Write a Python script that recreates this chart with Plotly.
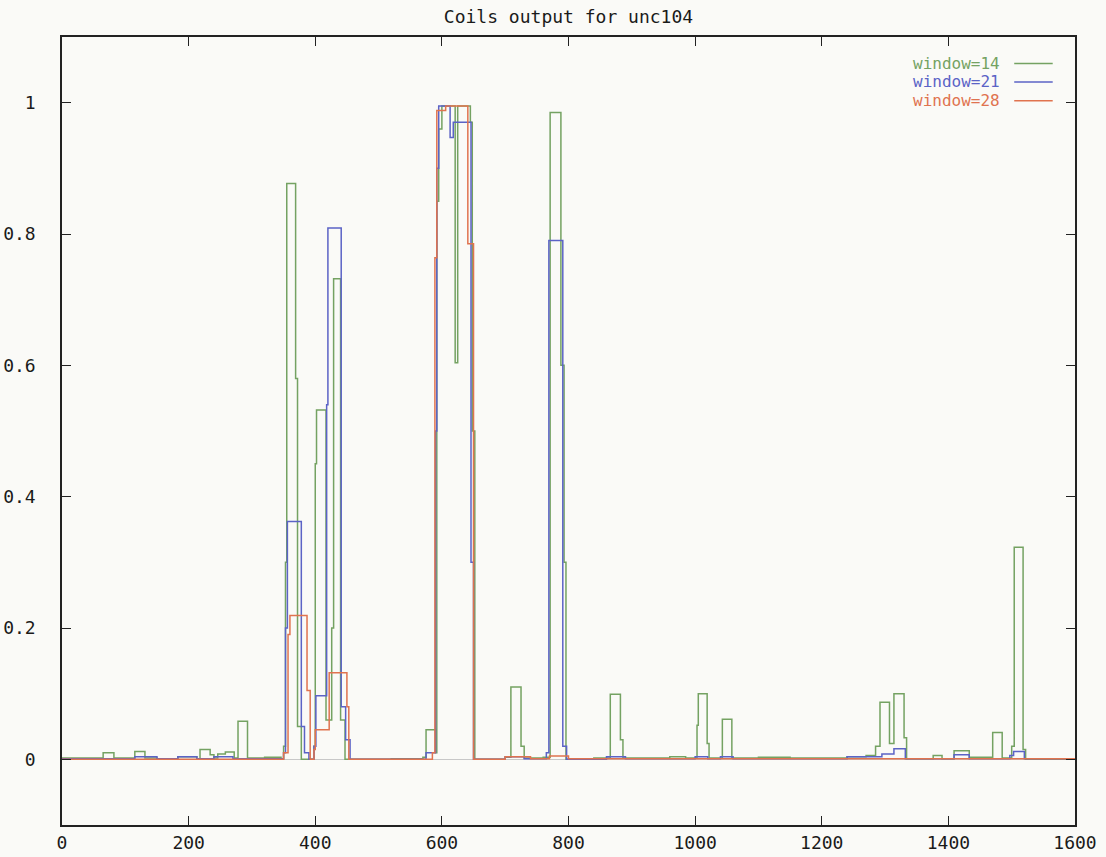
import plotly.graph_objects as go

# ---- data (step breakpoints) ----
x_w14 = [0, 65, 82, 115, 131, 150, 183, 213, 218, 234, 240, 246, 258, 272, 278, 293, 320, 346,
         350, 353, 355, 369, 372, 378, 398, 400, 402, 417, 426, 429, 440, 447, 520, 570, 575, 590,
         592, 595, 600, 621, 625, 645, 648, 652, 700, 709, 725, 730, 760, 771, 788, 793, 796,
         840, 866, 882, 886, 960, 985, 1003, 1005, 1019, 1022, 1043, 1058, 1100, 1150, 1240,
         1270, 1285, 1292, 1307, 1314, 1330, 1334, 1376, 1390, 1409, 1433, 1470, 1485, 1500,
         1504, 1518, 1522, 1600]
y_w14 = [0.002, 0.01, 0.002, 0.012, 0.002, 0.001, 0.004, 0.001, 0.015, 0.007, 0.002, 0.008, 0.011,
         0.002, 0.058, 0.002, 0.003, 0.001, 0.02, 0.3, 0.877, 0.58, 0.05, 0.0, 0.02, 0.45, 0.532,
         0.06, 0.2, 0.732, 0.06, 0.0, 0.001, 0.003, 0.045, 0.01, 0.85, 0.96, 0.995, 0.604, 0.995,
         0.97, 0.5, 0.0, 0.003, 0.11, 0.02, 0.002, 0.003, 0.985, 0.6, 0.3, 0.0, 0.002, 0.099, 0.03,
         0.002, 0.004, 0.002, 0.052, 0.1, 0.024, 0.002, 0.061, 0.002, 0.003, 0.002, 0.004, 0.006,
         0.02, 0.087, 0.024, 0.1, 0.033, 0.001, 0.006, 0.001, 0.013, 0.003, 0.041, 0.002, 0.02,
         0.323, 0.015, 0.0, 0.0]

x_w21 = [0, 115, 150, 183, 213, 240, 270, 350, 353, 356, 378, 383, 390, 398, 401, 418, 420, 441,
         448, 455, 575, 590, 592, 595, 613, 618, 646, 650, 700, 730, 765, 769, 791, 797, 860, 890,
         1000, 1020, 1040, 1060, 1240, 1295, 1314, 1332, 1409, 1433, 1497, 1503, 1520, 1600]
y_w21 = [0.001, 0.004, 0.001, 0.004, 0.001, 0.004, 0.001, 0.01, 0.2, 0.362, 0.05, 0.01, 0.0, 0.02,
         0.097, 0.54, 0.809, 0.08, 0.03, 0.0, 0.01, 0.5, 0.9, 0.995, 0.947, 0.97, 0.3, 0.0, 0.004,
         0.001, 0.01, 0.79, 0.02, 0.0, 0.004, 0.001, 0.004, 0.001, 0.004, 0.001, 0.004, 0.008,
         0.016, 0.001, 0.007, 0.001, 0.006, 0.012, 0.001, 0.001]

x_w28 = [0, 350, 357, 360, 387, 392, 398, 400, 422, 450, 453, 585, 589, 592, 606, 641, 650, 700,
         740, 770, 800, 1600]
y_w28 = [0.0, 0.01, 0.19, 0.219, 0.105, 0.0, 0.015, 0.045, 0.132, 0.08, 0.0, 0.01, 0.764, 0.988,
         0.995, 0.785, 0.0, 0.004, 0.001, 0.005, 0.001, 0.001]

series_names = ["window=14", "window=21", "window=28"]
series_colors = ["#74a262", "#5b63c6", "#e0734f"]

x_ticks = [0, 200, 400, 600, 800, 1000, 1200, 1400, 1600]
y_ticks = [0, 0.2, 0.4, 0.6, 0.8, 1]
y_tick_labels = ["0", "0.2", "0.4", "0.6", "0.8", "1"]

FONT = "DejaVu Sans Mono"
FS = 18

fig = go.Figure()
for xs, ys, name, col in zip([x_w14, x_w21, x_w28], [y_w14, y_w21, y_w28], series_names, series_colors):
    fig.add_trace(go.Scatter(x=xs, y=ys, mode="lines", line_shape="hv", name=name,
                             line=dict(color=col, width=1.5), showlegend=False))

# gnuplot-style key: text followed by sample line, right-aligned at top right
key_y = [0.9665, 0.943, 0.919]
for i, (name, col) in enumerate(zip(series_names, series_colors)):
    fig.add_annotation(xref="paper", yref="paper", x=0.928, y=key_y[i], text=name,
                       showarrow=False, xanchor="right", yanchor="middle",
                       font=dict(family=FONT, size=16, color=col))
    fig.add_shape(type="line", xref="paper", yref="paper", x0=0.940, x1=0.978,
                  y0=key_y[i], y1=key_y[i], line=dict(color=col, width=1.5))

fig.update_layout(
    width=1106, height=857,
    margin=dict(l=62, r=31, t=37, b=32, autoexpand=False),
    paper_bgcolor="#fafaf7", plot_bgcolor="#fafaf7",
    title=dict(text="Coils output for unc104", x=0.514, xanchor="center", y=0.98, yanchor="middle",
               font=dict(family=FONT, size=FS, color="#1a1a1a")),
    font=dict(family=FONT, size=FS, color="#1a1a1a"),
)
fig.update_xaxes(range=[0, 1600], tickvals=x_ticks, ticks="inside", ticklen=9, tickwidth=1.2,
                 tickcolor="#222222", showline=True, linecolor="#222222", linewidth=1.5,
                 mirror="allticks", showgrid=False, zeroline=False, ticklabelstandoff=1,
                 automargin=False)
fig.update_yaxes(range=[-0.1, 1.1], tickvals=y_ticks, ticktext=y_tick_labels, ticks="inside",
                 ticklen=9, tickwidth=1.2, tickcolor="#222222", showline=True, linecolor="#222222",
                 linewidth=1.5, mirror="allticks", showgrid=False, zeroline=True,
                 zerolinecolor="#c8c8c8", zerolinewidth=1, ticklabelstandoff=21, automargin=False)

fig.write_html("out.html")
